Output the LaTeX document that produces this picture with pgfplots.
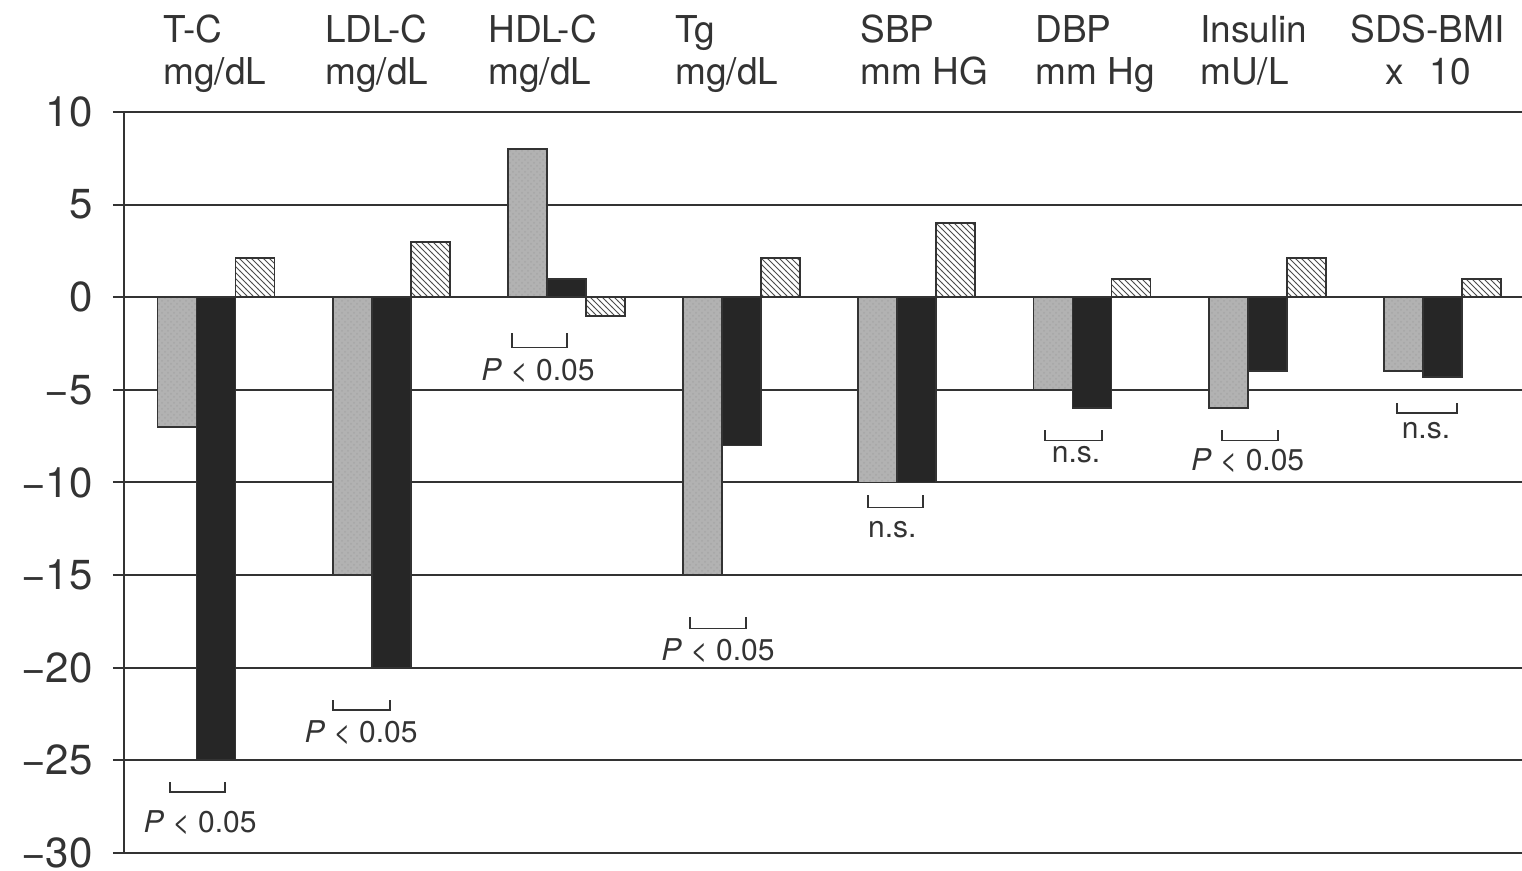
\documentclass[border=0pt]{standalone}
\usepackage{fontspec}
\setmainfont{TeX Gyre Heros}
\usepackage{pgfplots}
\pgfplotsset{compat=1.18}
\usetikzlibrary{patterns}
\definecolor{ink}{gray}{0.2}
\newcommand{\catfont}{\fontsize{18.5}{22}\selectfont}
\newcommand{\annfont}{\fontsize{15}{18}\selectfont}
\begin{document}
\begin{tikzpicture}
\begin{axis}[
  scale only axis, width=699pt, height=370.5pt,
  xmin=-0.525, xmax=7.454, ymin=-30, ymax=10,
  axis x line=top, axis y line=left,
  axis line style={-, line width=1pt, draw=ink},
  xtick=\empty,
  ytick={-30,-25,...,10},
  yticklabels={−30,−25,−20,−15,−10,−5,0,5,10},
  ymajorgrids, grid style={line width=1pt, draw=ink},
  tick align=outside, major tick length=5.5pt,
  tick style={line width=1pt, draw=ink},
  yticklabel style={font=\fontsize{21}{24}\selectfont, text=ink, inner sep=0pt, xshift=-10pt},
  clip=false,
]
\addplot[ybar, bar width=0.2226, bar shift=-0.2226, draw=ink, line width=0.9pt, fill=gray!60,
  postaction={pattern=crosshatch dots, pattern color=black!35}]
  coordinates {(0,-7) (1,-15) (2,8) (3,-15) (4,-10) (5,-5) (6,-6) (7,-4)};
\addplot[ybar, bar width=0.2226, bar shift=0, draw=ink, line width=0.9pt, fill=black!85]
  coordinates {(0,-25) (1,-20) (2,1) (3,-8) (4,-10) (5,-6) (6,-4) (7,-4.3)};
\addplot[ybar, bar width=0.2226, bar shift=0.2226, draw=ink, line width=0.9pt, fill=white,
  postaction={pattern=north west lines, pattern color=black!70}]
  coordinates {(0,2.1) (1,3) (2,-1) (3,2.1) (4,4) (5,1) (6,2.1) (7,1)};

% category labels
\begin{scope}[every node/.style={anchor=base west, font=\catfont, text=ink, inner sep=0pt}]
\node[yshift=34.5pt] at (axis cs:-0.3025,10) {T-C};
\node[yshift=13.5pt] at (axis cs:-0.3025,10) {mg/dL};
\node[yshift=34.5pt] at (axis cs:0.622,10) {LDL-C};
\node[yshift=13.5pt] at (axis cs:0.622,10) {mg/dL};
\node[yshift=34.5pt] at (axis cs:1.5525,10) {HDL-C};
\node[yshift=13.5pt] at (axis cs:1.5525,10) {mg/dL};
\node[yshift=34.5pt] at (axis cs:2.62,10) {Tg};
\node[yshift=13.5pt] at (axis cs:2.62,10) {mg/dL};
\node[yshift=34.5pt] at (axis cs:3.676,10) {SBP};
\node[yshift=13.5pt] at (axis cs:3.676,10) {mm HG};
\node[yshift=34.5pt] at (axis cs:4.675,10) {DBP};
\node[yshift=13.5pt] at (axis cs:4.675,10) {mm Hg};
\node[yshift=34.5pt] at (axis cs:5.616,10) {Insulin};
\node[yshift=13.5pt] at (axis cs:5.616,10) {mU/L};
\node[yshift=34.5pt] at (axis cs:6.473,10) {SDS-BMI};
\node[yshift=13.5pt] at (axis cs:6.672,10) {x\hspace{0.7em}10};
\end{scope}

% significance brackets
\begin{scope}[line width=0.75pt, draw=ink]
\draw (axis cs:-0.263,-26.18) -- (axis cs:-0.263,-26.72) -- (axis cs:0.051,-26.72) -- (axis cs:0.051,-26.18);
\draw (axis cs:0.668,-21.75) -- (axis cs:0.668,-22.29) -- (axis cs:0.993,-22.29) -- (axis cs:0.993,-21.75);
\draw (axis cs:1.689,-1.94) -- (axis cs:1.689,-2.70) -- (axis cs:2.003,-2.70) -- (axis cs:2.003,-1.94);
\draw (axis cs:2.705,-17.27) -- (axis cs:2.705,-17.87) -- (axis cs:3.025,-17.87) -- (axis cs:3.025,-17.27);
\draw (axis cs:3.721,-10.69) -- (axis cs:3.721,-11.34) -- (axis cs:4.035,-11.34) -- (axis cs:4.035,-10.69);
\draw (axis cs:4.732,-7.18) -- (axis cs:4.732,-7.72) -- (axis cs:5.057,-7.72) -- (axis cs:5.057,-7.18);
\draw (axis cs:5.742,-7.18) -- (axis cs:5.742,-7.72) -- (axis cs:6.062,-7.72) -- (axis cs:6.062,-7.18);
\draw (axis cs:6.741,-5.72) -- (axis cs:6.741,-6.26) -- (axis cs:7.083,-6.26) -- (axis cs:7.083,-5.72);
\end{scope}

\begin{scope}[every node/.style={anchor=base, font=\annfont, text=ink, inner sep=0pt}]
\node at (axis cs:-0.091,-28.88) {\textit{P} < 0.05};
\node at (axis cs:0.828,-24.03) {\textit{P} < 0.05};
\node at (axis cs:1.838,-4.48) {\textit{P} < 0.05};
\node at (axis cs:2.865,-19.6) {\textit{P} < 0.05};
\node at (axis cs:3.86,-12.96) {n.s.};
\node at (axis cs:4.909,-8.9) {n.s.};
\node at (axis cs:5.888,-9.34) {\textit{P} < 0.05};
\node at (axis cs:6.906,-7.61) {n.s.};
\end{scope}
\end{axis}
\pgfresetboundingbox
\path ([xshift=-62pt,yshift=-9pt]current axis.south west) rectangle ([yshift=56pt]current axis.north east);
\end{tikzpicture}
\end{document}
